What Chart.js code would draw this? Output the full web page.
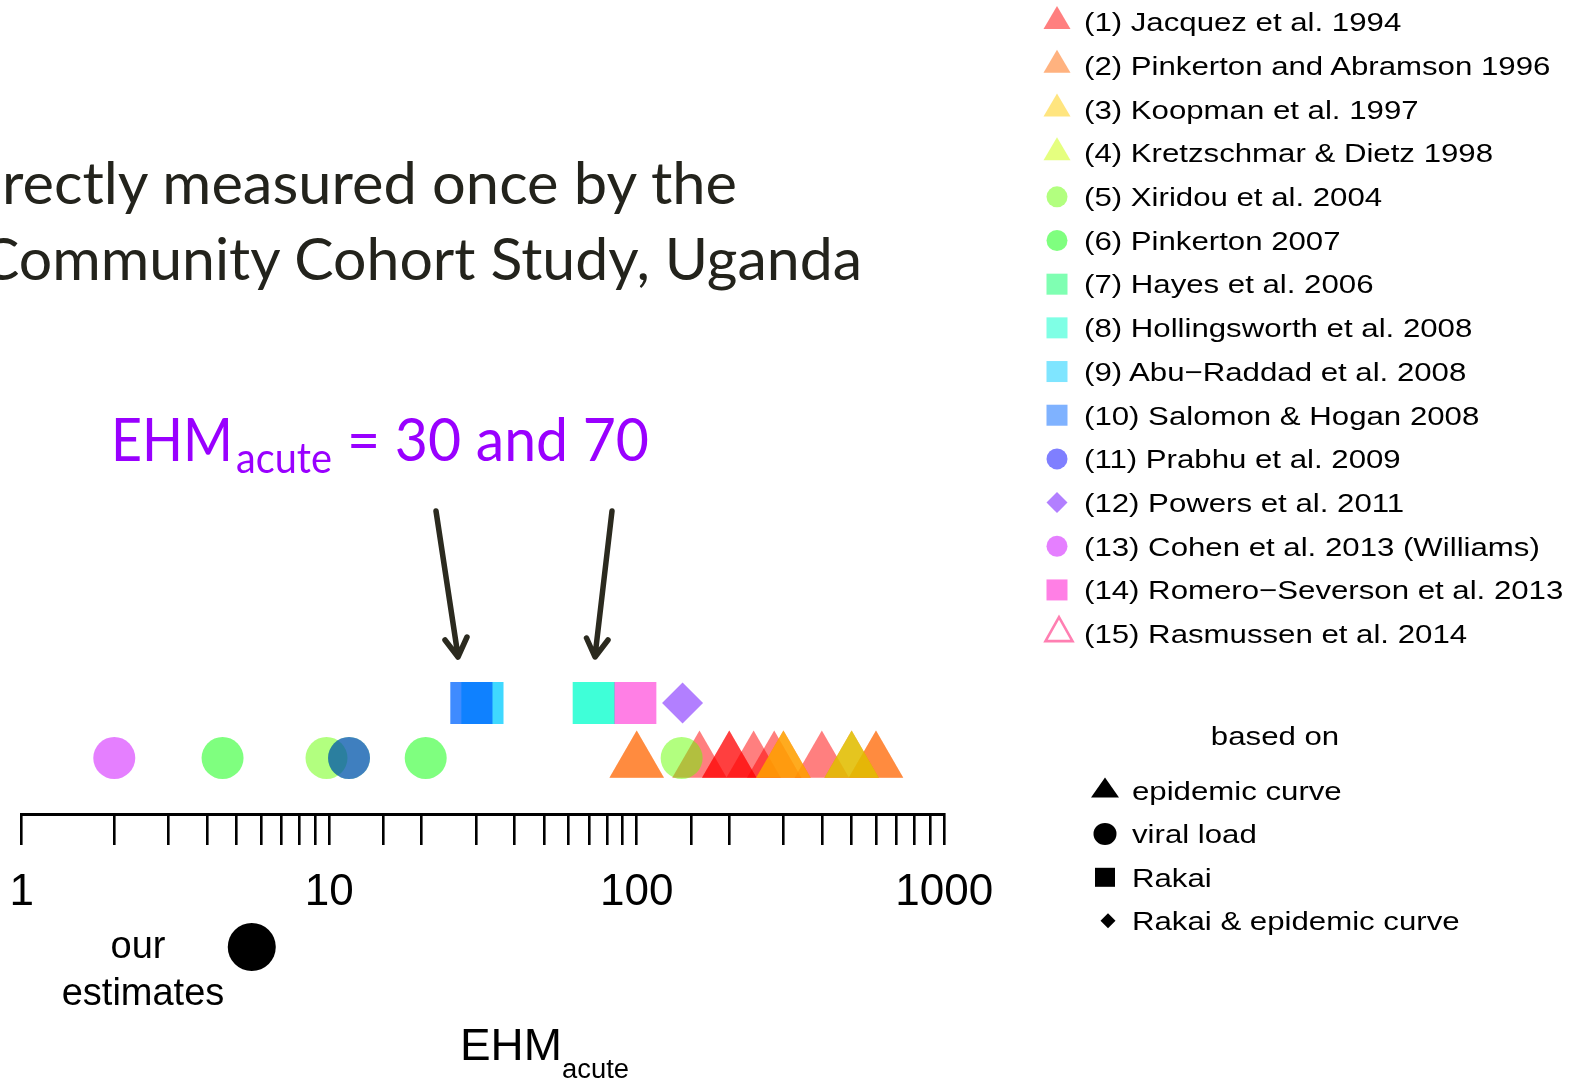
<!DOCTYPE html>
<html>
<head>
<meta charset="utf-8">
<title>EHM acute estimates</title>
<script src="https://cdn.jsdelivr.net/npm/chart.js@4.4.1/dist/chart.umd.min.js"></script>
<style>
  html, body { margin:0; padding:0; background:#ffffff; }
  body { width:1577px; height:1082px; position:relative; overflow:hidden; }
  #chart { position:absolute; left:0; top:0; }
  #overlay { position:absolute; left:0; top:0; pointer-events:none; }
</style>
</head>
<body>
<canvas id="chart" width="1577" height="1082"></canvas>
<svg id="overlay" width="1577" height="1082" xmlns="http://www.w3.org/2000/svg"></svg>
<script>
// ---------------- data ----------------
const studyLabels = [
  "(1) Jacquez et al. 1994",
  "(2) Pinkerton and Abramson 1996",
  "(3) Koopman et al. 1997",
  "(4) Kretzschmar & Dietz 1998",
  "(5) Xiridou et al. 2004",
  "(6) Pinkerton 2007",
  "(7) Hayes et al. 2006",
  "(8) Hollingsworth et al. 2008",
  "(9) Abu\u2212Raddad et al. 2008",
  "(10) Salomon & Hogan 2008",
  "(11) Prabhu et al. 2009",
  "(12) Powers et al. 2011",
  "(13) Cohen et al. 2013 (Williams)",
  "(14) Romero\u2212Severson et al. 2013",
  "(15) Rasmussen et al. 2014"
];
const studyColors = [
  "#FF0000", "#FF6600", "#FFCC00", "#CCFF00", "#66FF00",
  "#00FF00", "#00FF66", "#00FFCC", "#00CCFF", "#0066FF",
  "#0000FF", "#6600FF", "#CC00FF", "#FF00CC", "#FF0066"
];
const studyMethods = [
  "epidemic", "epidemic", "epidemic", "epidemic", "viral",
  "viral", "rakai", "rakai", "rakai", "rakai",
  "viral", "both", "viral", "rakai", "epidemic"
];
// EHM_acute estimates per study
const ehmJacquez       = [160, 200, 200, 240, 280, 400];
const ehmPinkertonAbr  = [100, 100, 300, 300, 500, 500, 600, 600];
const ehmKoopman       = [300];
const ehmKretzschmar   = [500];
const ehmXiridou       = [9.8, 140];
const ehmPinkerton     = [4.5, 11.6, 20.6];
const ehmHayes         = [];
const ehmHollingsworth = [72.5, 72.5];
const ehmAbuRaddad     = [31.5, 31.5];
const ehmSalomon       = [29, 29];
const ehmPrabhu        = [11.6];
const ehmPowers        = [141];
const ehmCohen         = [2];
const ehmRomero        = [99];
const ehmRasmussen     = [];
const ourEstimates     = [5.6];
const studyValues = [ehmJacquez, ehmPinkertonAbr, ehmKoopman, ehmKretzschmar, ehmXiridou,
  ehmPinkerton, ehmHayes, ehmHollingsworth, ehmAbuRaddad, ehmSalomon,
  ehmPrabhu, ehmPowers, ehmCohen, ehmRomero, ehmRasmussen];
const methodLabels = ["epidemic curve", "viral load", "Rakai", "Rakai & epidemic curve"];
const tickLabels = ["1", "10", "100", "1000"];
const xMin = 1, xMax = 1000;

// ---------------- styling ----------------
const methodStyle = {
  epidemic: { pointStyle: 'triangle', radius: 31.5, row: 2.6 },
  viral:    { pointStyle: 'circle',   radius: 21,   row: 2.8 },
  rakai:    { pointStyle: 'rect',     radius: 29.7, row: 5.55 },
  both:     { pointStyle: 'rectRot',  radius: 20.5, row: 5.55 }
};
const ourRow = -6.65;
function rgba(hex, a) {
  const n = parseInt(hex.slice(1), 16);
  return `rgba(${(n >> 16) & 255},${(n >> 8) & 255},${n & 255},${a})`;
}

const datasets = studyLabels.map((label, i) => {
  const st = methodStyle[studyMethods[i]];
  return {
    label,
    data: studyValues[i].map(v => ({ x: v, y: st.row })),
    pointStyle: st.pointStyle,
    pointRadius: st.radius,
    pointHoverRadius: st.radius,
    pointBorderWidth: 0,
    backgroundColor: rgba(studyColors[i], 0.5),
    borderColor: 'rgba(0,0,0,0)',
    borderWidth: 0,
    showLine: false,
    clip: false,
    order: 100 - i
  };
});
datasets.push({
  label: 'our estimates',
  data: ourEstimates.map(v => ({ x: v, y: ourRow })),
  pointStyle: 'circle', pointRadius: 24, pointHoverRadius: 24,
  backgroundColor: '#000000', borderWidth: 0, pointBorderWidth: 0,
  showLine: false, clip: false, order: 0
});

function isDecade(v) {
  const l = Math.log10(v);
  return Math.abs(l - Math.round(l)) < 1e-9;
}

new Chart(document.getElementById('chart'), {
  type: 'scatter',
  data: { datasets },
  options: {
    responsive: false,
    animation: false,
    devicePixelRatio: 1,
    events: [],
    layout: { autoPadding: false, padding: { left: 21.7, right: 1577 - 944.2, top: 614, bottom: 108 } },
    plugins: { legend: { display: false }, tooltip: { enabled: false }, title: { display: false } },
    scales: {
      x: {
        type: 'logarithmic', min: xMin, max: xMax, position: { y: 0 },
        border: { display: true, color: '#000000', width: 3 },
        grid: { drawOnChartArea: false, drawTicks: true, tickLength: 29, color: '#000000', lineWidth: 2.6 },
        ticks: {
          autoSkip: false, maxRotation: 0, minRotation: 0, color: '#000000', padding: 8,
          font: { family: '"Liberation Sans", Arial, Helvetica, sans-serif', size: 44, lineHeight: 1.88 },
          callback: v => {
            if (!isDecade(v)) return '';
            const s = String(Math.round(v));
            return tickLabels.includes(s) ? s : '';
          }
        }
      },
      y: { type: 'linear', display: false, min: -8, max: 10 }
    }
  }
});

// ---------------- overlay: texts, arrows, legend ----------------
const NS = 'http://www.w3.org/2000/svg';
const svg = document.getElementById('overlay');
function el(name, attrs, parent) {
  const e = document.createElementNS(NS, name);
  for (const k in attrs) e.setAttribute(k, attrs[k]);
  (parent || svg).appendChild(e);
  return e;
}
function text(str, x, y, o) {
  const a = {
    'font-family': o.family || '"Liberation Sans", Arial, sans-serif',
    'font-size': o.size, fill: o.fill || '#000000',
    'text-anchor': o.anchor || 'start'
  };
  if (o.sx) {
    a.transform = `translate(${x},${y}) scale(${o.sx},1)`;
    a.x = 0; a.y = 0;
  } else { a.x = x; a.y = y; }
  if (o.len) { a.textLength = o.len; a.lengthAdjust = 'spacingAndGlyphs'; }
  const t = el('text', a);
  t.textContent = str;
  return t;
}

const slideFont = 'Lato, "Open Sans", sans-serif';
const slideInk = '#23231c';
text('rectly measured once by the', 2, 204, { family: slideFont, size: 58, fill: slideInk, len: 735 });
text('Community Cohort Study, Uganda', -20, 280, { family: slideFont, size: 58, fill: slideInk, len: 882 });

const purple = '#9900FF';
text('EHM', 111, 461, { family: slideFont, size: 60, fill: purple, len: 122 });
text('acute', 236, 473, { family: slideFont, size: 42, fill: purple, len: 96 });
text('= 30 and 70', 347, 461, { family: slideFont, size: 60, fill: purple, len: 302 });

// arrows
const arrowInk = '#2b2a1f';
el('path', { d: 'M436 511 L458 656 M445 640 L458 657 L467 637', stroke: arrowInk, 'stroke-width': 5.5,
  fill: 'none', 'stroke-linecap': 'round', 'stroke-linejoin': 'round' });
el('path', { d: 'M612 511 L595 656 M586.5 638 L595 657 L608 640', stroke: arrowInk, 'stroke-width': 5.5,
  fill: 'none', 'stroke-linecap': 'round', 'stroke-linejoin': 'round' });

// our estimates label
text('our', 138, 958, { size: 38, anchor: 'middle' });
text('estimates', 143, 1005, { size: 38, anchor: 'middle' });

// axis title
text('EHM', 460, 1060, { size: 44, len: 102 });
text('acute', 562, 1078, { size: 27, len: 67 });

// study legend
const legX = 1057, legText = 1084, legTop = 22.1, legStep = 43.68, legSx = 1.2, legSize = 26;
studyLabels.forEach((lab, i) => {
  const cy = legTop + legStep * i;
  const fill = rgba(studyColors[i], 0.5);
  const m = studyMethods[i];
  if (i === 14) {
    el('path', { d: `M${legX + 2 - 13.5} ${cy + 7.5} L${legX + 2} ${cy - 16.5} L${legX + 2 + 13.5} ${cy + 7.5} Z`,
      fill: 'none', stroke: fill, 'stroke-width': 2.6, 'stroke-linejoin': 'miter' });
  } else if (m === 'epidemic') {
    el('path', { d: `M${legX - 13.5} ${cy + 7} L${legX} ${cy - 16} L${legX + 13.5} ${cy + 7} Z`, fill });
  } else if (m === 'viral') {
    el('circle', { cx: legX, cy, r: 10.5, fill });
  } else if (m === 'rakai') {
    el('rect', { x: legX - 10.5, y: cy - 10.5, width: 21, height: 21, fill });
  } else {
    el('path', { d: `M${legX} ${cy - 10.5} L${legX + 10.5} ${cy} L${legX} ${cy + 10.5} L${legX - 10.5} ${cy} Z`, fill });
  }
  text(lab, legText, cy + 9.3, { size: legSize, sx: legSx });
});

// method legend
text('based on', 1275, 745, { size: legSize, sx: legSx, anchor: 'middle' });
const mX = 1105, mText = 1132, mTop = 790.5, mStep = 43.4;
methodLabels.forEach((lab, j) => {
  const cy = mTop + mStep * j;
  if (j === 0) el('path', { d: `M${mX - 14} ${cy + 7} L${mX} ${cy - 13} L${mX + 14} ${cy + 7} Z`, fill: '#000' });
  else if (j === 1) el('ellipse', { cx: mX, cy, rx: 11.5, ry: 11, fill: '#000' });
  else if (j === 2) el('rect', { x: mX - 10, y: cy - 9.5, width: 20, height: 19, fill: '#000' });
  else el('path', { d: `M${mX + 3} ${cy - 7.5} L${mX + 10.5} ${cy} L${mX + 3} ${cy + 7.5} L${mX - 4.5} ${cy} Z`, fill: '#000' });
  text(lab, mText, cy + 9.3, { size: legSize, sx: legSx });
});
</script>
</body>
</html>
